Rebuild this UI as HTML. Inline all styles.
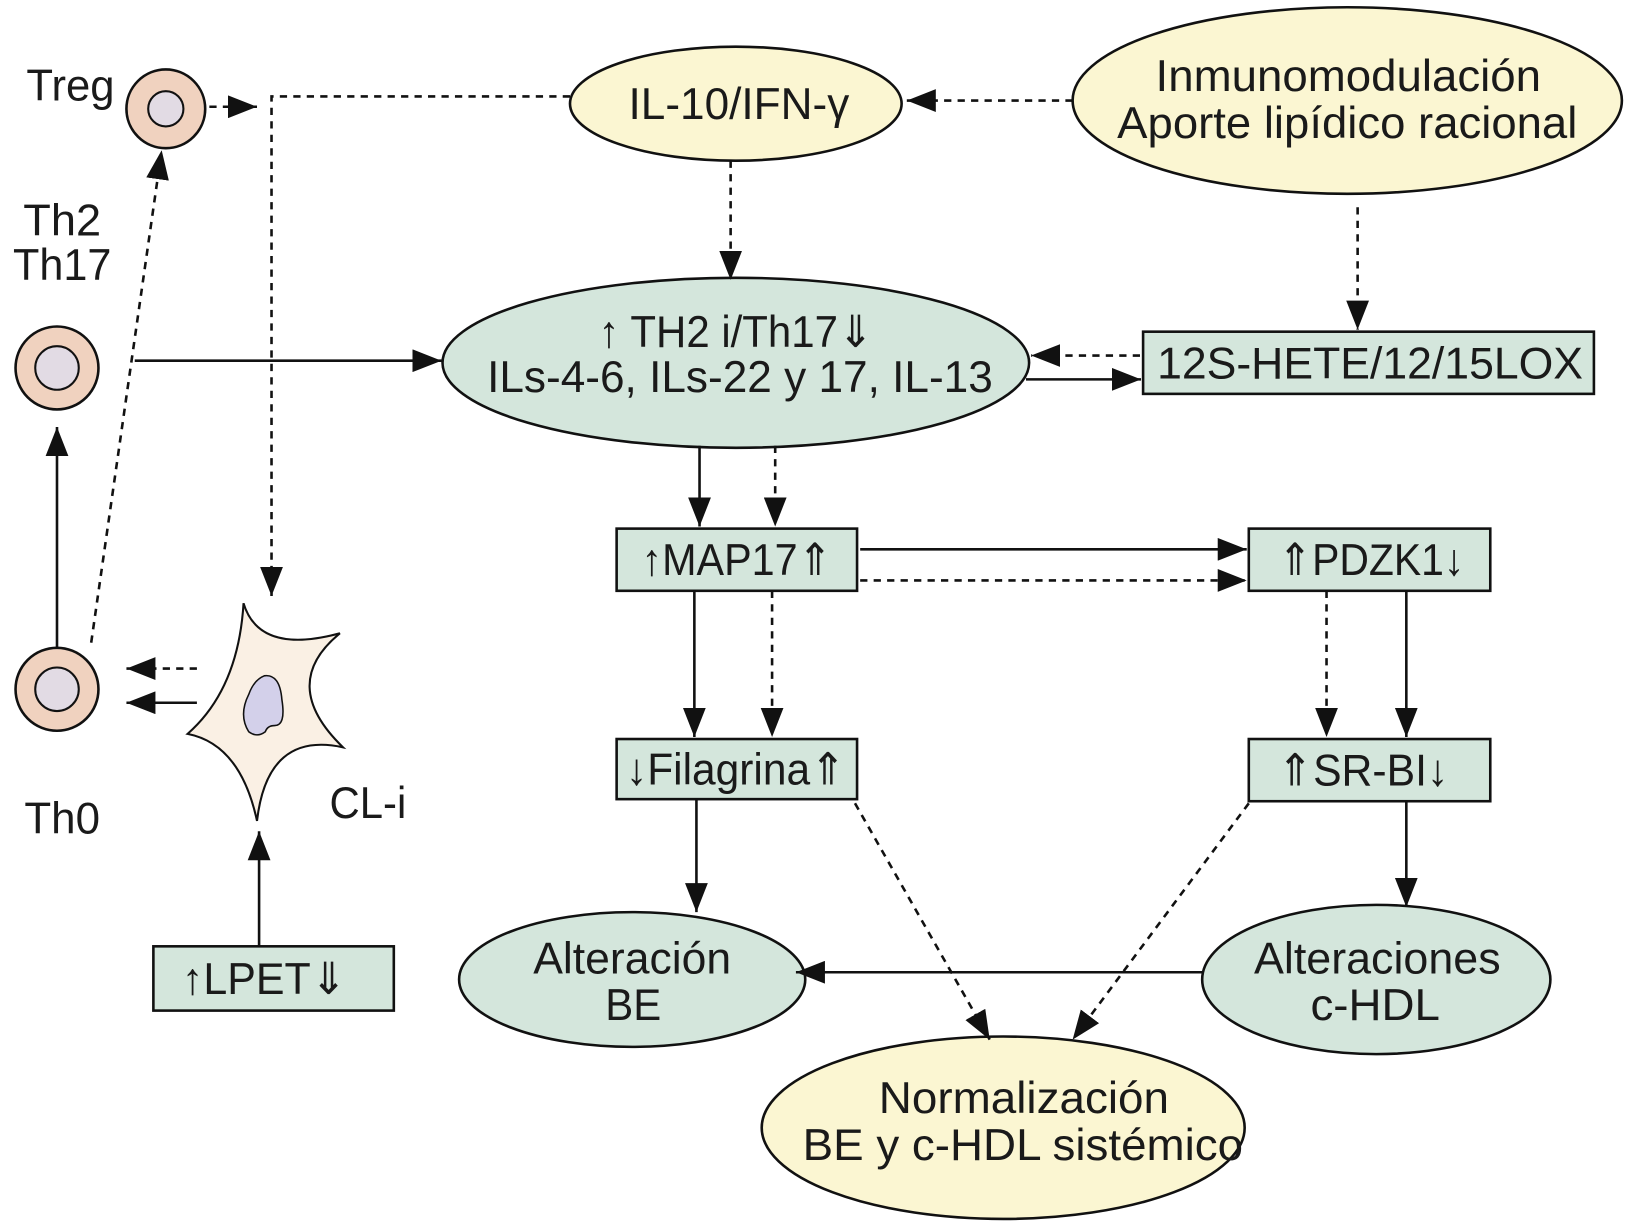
<!DOCTYPE html>
<html><head><meta charset="utf-8"><style>
html,body{margin:0;padding:0;background:#fff}
svg{display:block}
text{font-family:"Liberation Sans",sans-serif;fill:#1a1a1a;text-anchor:middle}
</style></head><body>
<svg width="1625" height="1221" viewBox="0 0 1568 1178" preserveAspectRatio="none" xmlns="http://www.w3.org/2000/svg">
<defs>
<marker id="b" viewBox="0 0 10 10" refX="10" refY="5" markerWidth="28" markerHeight="22" markerUnits="userSpaceOnUse" orient="auto" preserveAspectRatio="none">
<path d="M0,0 L10,5 L0,10 z" fill="#111"/></marker>
</defs>
<g stroke="#111" stroke-width="2.5" fill="none">
<circle cx="160" cy="105" r="38" fill="#f0d2bf"/><circle cx="160" cy="105" r="17" fill="#e2dbe4" stroke-width="2"/>
<circle cx="55" cy="355" r="40" fill="#f0d2bf"/><circle cx="55" cy="355" r="21" fill="#e2dbe4" stroke-width="2"/>
<circle cx="55" cy="665" r="40" fill="#f0d2bf"/><circle cx="55" cy="665" r="21" fill="#e2dbe4" stroke-width="2"/>
<path d="M235,582 Q250,632 328,611 Q268,660 331,721 Q258,705 248,792 Q232,718 181,708 Q230,665 235,582 z" fill="#faf0e4" stroke-width="2"/>
<path d="M255,652 Q270,650 272,675 Q276,700 265,700 Q258,700 256,706 Q248,712 240,706 Q230,690 240,670 Q245,656 255,652 z" fill="#d3d0ea" stroke-width="1.5"/>
<ellipse cx="710" cy="100" rx="160" ry="55" fill="#fbf6d2"/>
<ellipse cx="1300" cy="97" rx="265" ry="90" fill="#fbf6d2"/>
<ellipse cx="710" cy="350" rx="283" ry="82" fill="#d4e6dc"/>
<ellipse cx="610" cy="945" rx="167" ry="65" fill="#d4e6dc"/>
<ellipse cx="1328" cy="945" rx="168" ry="72" fill="#d4e6dc"/>
<ellipse cx="968" cy="1088" rx="233" ry="88" fill="#fbf6d2"/>
<rect x="1103" y="320" width="435" height="60" fill="#d4e6dc"/>
<rect x="595" y="510" width="232" height="60" fill="#d4e6dc"/>
<rect x="1205" y="510" width="233" height="60" fill="#d4e6dc"/>
<rect x="595" y="713" width="232" height="58" fill="#d4e6dc"/>
<rect x="1205" y="713" width="233" height="60" fill="#d4e6dc"/>
<rect x="148" y="913" width="232" height="62" fill="#d4e6dc"/>
</g>
<g stroke="#111" stroke-width="2.5" fill="none">
<line x1="55" y1="625" x2="55" y2="412" marker-end="url(#b)"/>
<line x1="130" y1="348" x2="426" y2="348" marker-end="url(#b)"/>
<line x1="990" y1="366" x2="1101" y2="366" marker-end="url(#b)"/>
<line x1="675" y1="430" x2="675" y2="508" marker-end="url(#b)"/>
<line x1="830" y1="530" x2="1203" y2="530" marker-end="url(#b)"/>
<line x1="670" y1="570" x2="670" y2="711" marker-end="url(#b)"/>
<line x1="1357" y1="570" x2="1357" y2="711" marker-end="url(#b)"/>
<line x1="672" y1="771" x2="672" y2="880" marker-end="url(#b)"/>
<line x1="1357" y1="773" x2="1357" y2="875" marker-end="url(#b)"/>
<line x1="1160" y1="938" x2="768" y2="938" marker-end="url(#b)"/>
<line x1="190" y1="678" x2="122" y2="678" marker-end="url(#b)"/>
<line x1="250" y1="913" x2="250" y2="802" marker-end="url(#b)"/>
</g>
<g stroke="#111" stroke-width="2.5" fill="none" stroke-dasharray="7,6">
<line x1="88" y1="620" x2="156" y2="145" marker-end="url(#b)"/>
<line x1="202" y1="103" x2="248" y2="103" marker-end="url(#b)"/>
<polyline points="550,93 262,93 262,575" marker-end="url(#b)"/>
<line x1="1035" y1="97" x2="875" y2="97" marker-end="url(#b)"/>
<line x1="705" y1="155" x2="705" y2="270" marker-end="url(#b)"/>
<line x1="1310" y1="200" x2="1310" y2="318" marker-end="url(#b)"/>
<line x1="1100" y1="343" x2="995" y2="343" marker-end="url(#b)"/>
<line x1="748" y1="430" x2="748" y2="508" marker-end="url(#b)"/>
<line x1="830" y1="560" x2="1203" y2="560" marker-end="url(#b)"/>
<line x1="745" y1="570" x2="745" y2="711" marker-end="url(#b)"/>
<line x1="1280" y1="570" x2="1280" y2="711" marker-end="url(#b)"/>
<line x1="825" y1="775" x2="955" y2="1003" marker-end="url(#b)"/>
<line x1="1205" y1="775" x2="1035" y2="1003" marker-end="url(#b)"/>
<line x1="190" y1="645" x2="122" y2="645" marker-end="url(#b)"/>
</g>
<g font-size="43">
<text x="68" y="97" textLength="85" lengthAdjust="spacingAndGlyphs">Treg</text>
<text x="60" y="227" textLength="75" lengthAdjust="spacingAndGlyphs">Th2</text>
<text x="60" y="270" textLength="95" lengthAdjust="spacingAndGlyphs">Th17</text>
<text x="60" y="804" textLength="73" lengthAdjust="spacingAndGlyphs">Th0</text>
<text x="355" y="789" textLength="74" lengthAdjust="spacingAndGlyphs">CL-i</text>
<text x="713" y="115" textLength="213" lengthAdjust="spacingAndGlyphs">IL-10/IFN-γ</text>
<text x="1301" y="88" textLength="372" lengthAdjust="spacingAndGlyphs">Inmunomodulación</text>
<text x="1300" y="133" textLength="444" lengthAdjust="spacingAndGlyphs">Aporte lipídico racional</text>
<text x="710" y="335" textLength="265" lengthAdjust="spacingAndGlyphs">↑ TH2 i/Th17⇓</text>
<text x="714" y="378" textLength="488" lengthAdjust="spacingAndGlyphs">ILs-4-6, ILs-22 y 17, IL-13</text>
<text x="1322" y="365" textLength="411" lengthAdjust="spacingAndGlyphs">12S-HETE/12/15LOX</text>
<text x="711" y="555" textLength="184" lengthAdjust="spacingAndGlyphs">↑MAP17⇑</text>
<text x="1323" y="555" textLength="180" lengthAdjust="spacingAndGlyphs">⇑PDZK1↓</text>
<text x="710" y="757" textLength="212" lengthAdjust="spacingAndGlyphs">↓Filagrina⇑</text>
<text x="1315" y="758" textLength="165" lengthAdjust="spacingAndGlyphs">⇑SR-BI↓</text>
<text x="255" y="959" textLength="159" lengthAdjust="spacingAndGlyphs">↑LPET⇓</text>
<text x="610" y="939" textLength="191" lengthAdjust="spacingAndGlyphs">Alteración</text>
<text x="611" y="984" textLength="54" lengthAdjust="spacingAndGlyphs">BE</text>
<text x="1329" y="939" textLength="238" lengthAdjust="spacingAndGlyphs">Alteraciones</text>
<text x="1327" y="984" textLength="125" lengthAdjust="spacingAndGlyphs">c-HDL</text>
<text x="988" y="1074" textLength="280" lengthAdjust="spacingAndGlyphs">Normalización</text>
<text x="987" y="1119" textLength="425" lengthAdjust="spacingAndGlyphs">BE y c-HDL sistémico</text>
</g>
</svg>
</body></html>
